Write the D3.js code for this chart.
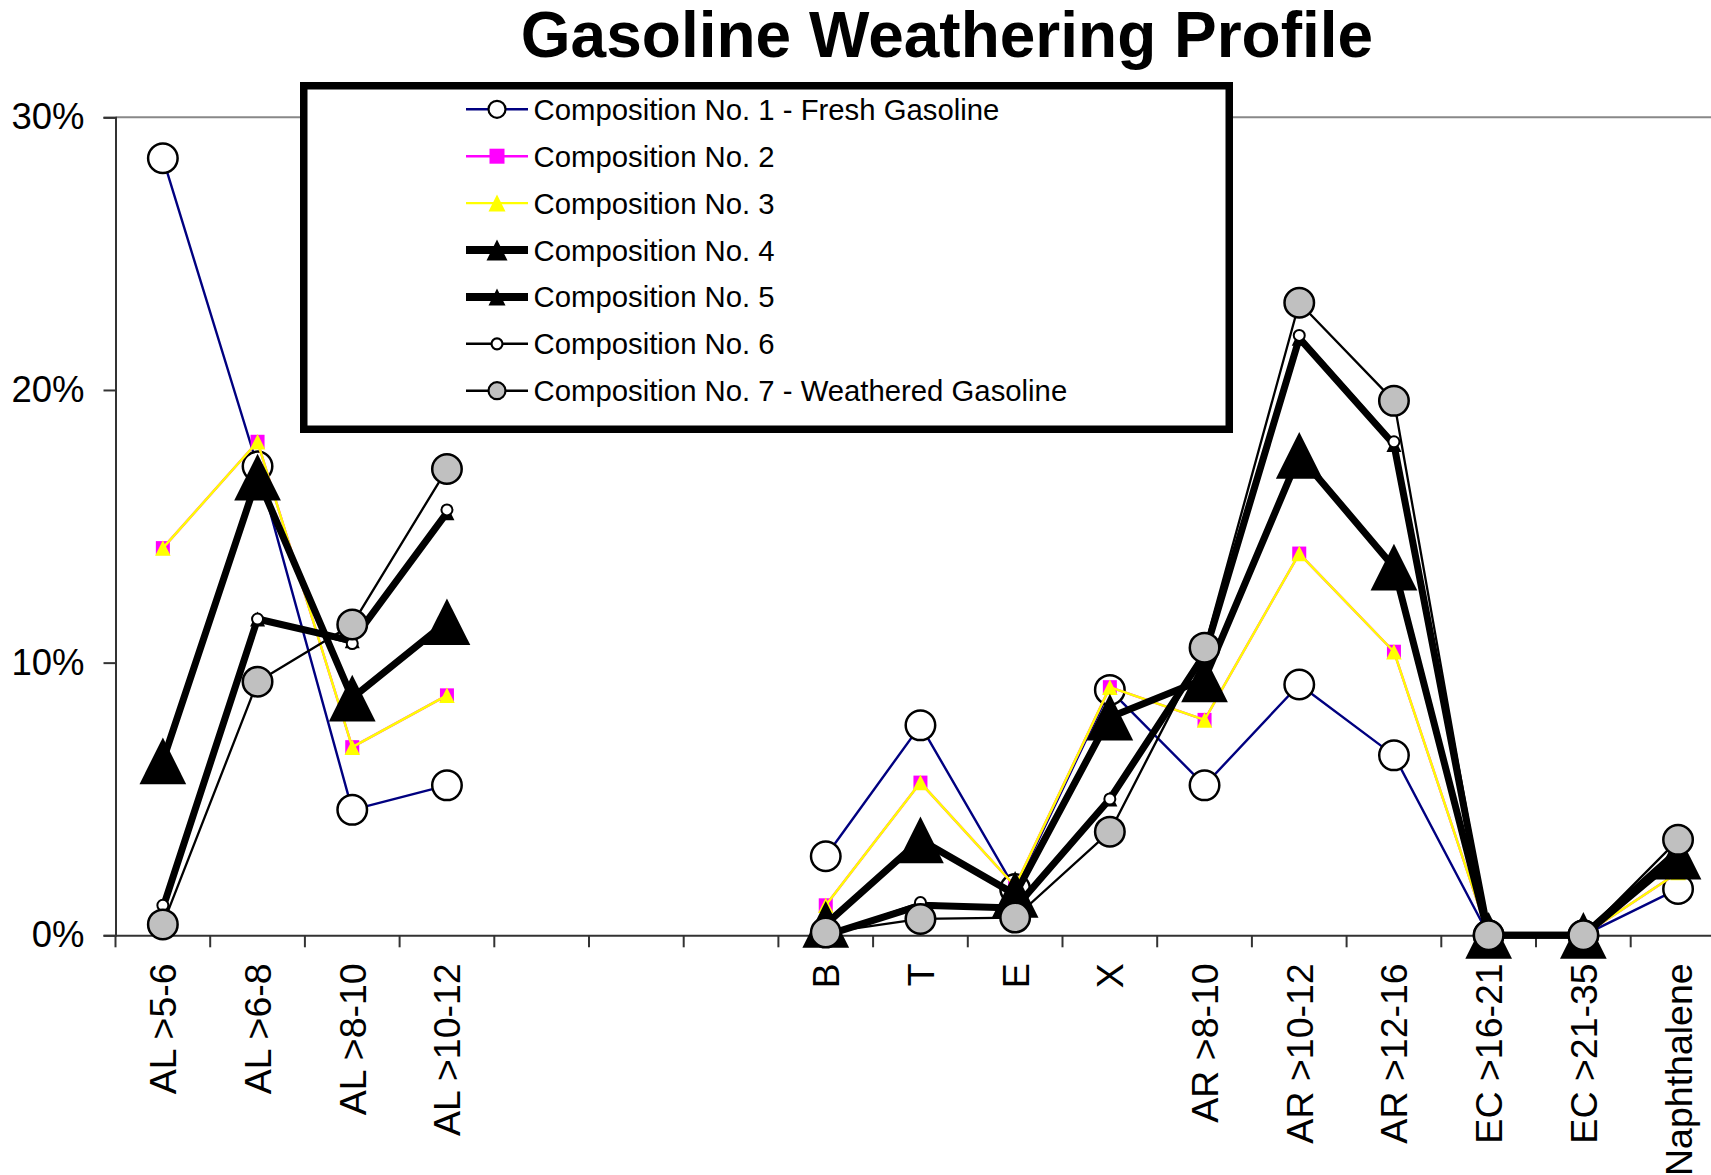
<!DOCTYPE html>
<html>
<head>
<meta charset="utf-8">
<script src="https://cdn.jsdelivr.net/npm/d3@7"></script>
<style>
  html, body { margin: 0; padding: 0; background: #fff; }
  svg { display: block; font-family: "Liberation Sans", Arial, sans-serif; }
</style>
</head>
<body>
<svg id="chart" width="1711" height="1175"></svg>
<script>
// ---------- DATA ----------
const categories = ["AL >5-6", "AL >6-8", "AL >8-10", "AL >10-12", "", "", "",
  "B", "T", "E", "X", "AR >8-10", "AR >10-12", "AR >12-16", "EC >16-21", "EC >21-35", "Naphthalene"];

const seriesNames = [
  "Composition No. 1 - Fresh Gasoline",
  "Composition No. 2",
  "Composition No. 3",
  "Composition No. 4",
  "Composition No. 5",
  "Composition No. 6",
  "Composition No. 7 - Weathered Gasoline"
];

const comp1 = [28.5, 17.2, 4.6, 5.5, null, null, null, 2.9, 7.7, 1.7, 9.0, 5.5, 9.2, 6.6, 0, 0, 1.7];
const comp2 = [14.2, 18.1, 6.9, 8.8, null, null, null, 1.1, 5.6, 1.8, 9.1, 7.9, 14.0, 10.4, 0, 0, 2.3];
const comp3 = [14.2, 18.1, 6.9, 8.8, null, null, null, 1.1, 5.6, 1.8, 9.1, 7.9, 14.0, 10.4, 0, 0, 2.3];
const comp4 = [6.4, 16.8, 8.7, 11.5, null, null, null, 0.4, 3.5, 1.5, 8.0, 9.4, 17.6, 13.5, 0, 0, 2.9];
const comp5 = [1.0, 11.6, 10.8, 15.5, null, null, null, 0.0, 1.1, 1.0, 5.0, 10.3, 21.9, 18.0, 0, 0, 3.1];
const comp6 = [1.1, 11.6, 10.7, 15.6, null, null, null, 0.0, 1.2, 0.9, 5.0, 10.4, 22.0, 18.1, 0, 0, 3.2];
const comp7 = [0.4, 9.3, 11.4, 17.1, null, null, null, 0.1, 0.6, 0.65, 3.8, 10.55, 23.2, 19.6, 0, 0, 3.5];

const yTicks = [0, 10, 20, 30];

// ---------- STYLES ----------
const styles = [
  {line: "#000080", lw: 2.4, marker: "circle", size: 14.75, fill: "#fff", stroke: "#000", sw: 2.5, lgSize: 8.5, lgLw: 2.4},
  {line: "#FF00FF", lw: 2.4, marker: "square", size: 14, fill: "#FF00FF", stroke: "none", sw: 0, lgSize: 15, lgLw: 2.4},
  {line: "#FFFF00", lw: 2.4, marker: "triangle", size: 15.5, fill: "#FFFF00", stroke: "none", sw: 0, lgSize: 17, lgLw: 2.4},
  {line: "#000", lw: 7, marker: "triangle", size: 46.7, fill: "#000", stroke: "none", sw: 0, lgSize: 21, lgLw: 8},
  {line: "#000", lw: 7, marker: "triangle", size: 15, fill: "#000", stroke: "none", sw: 0, lgSize: 17, lgLw: 8},
  {line: "#000", lw: 2.3, marker: "circle", size: 5.5, fill: "#fff", stroke: "#000", sw: 2, lgSize: 5.5, lgLw: 2.4},
  {line: "#000", lw: 2.3, marker: "circle", size: 14.75, fill: "#C0C0C0", stroke: "#000", sw: 2.5, lgSize: 8.5, lgLw: 2.4}
];
const allSeries = [comp1, comp2, comp3, comp4, comp5, comp6, comp7];

// ---------- LAYOUT ----------
const svg = d3.select("#chart");
svg.append("rect").attr("width", 1711).attr("height", 1175).attr("fill", "#fff");

const plotLeft = 115.5, step = 94.7;
const plotRight = plotLeft + step * categories.length;
const plotTop = 117.3, plotBottom = 935.3;

const x = d3.scaleBand().domain(d3.range(categories.length)).range([plotLeft, plotRight]).padding(0);
const y = d3.scaleLinear().domain([0, 30]).range([plotBottom, plotTop]);
const cx = i => x(i) + x.bandwidth() / 2;

// title
svg.append("text")
  .attr("x", 947).attr("y", 57)
  .attr("text-anchor", "middle")
  .attr("font-size", 64).attr("font-weight", "bold")
  .text("Gasoline Weathering Profile");

// plot area top border (gray)
svg.append("line")
  .attr("x1", plotLeft).attr("x2", plotRight)
  .attr("y1", y(30)).attr("y2", y(30))
  .attr("stroke", "#888").attr("stroke-width", 2);

// y axis
const yAxis = d3.axisLeft(y).tickValues(yTicks).tickFormat(d => d + "%").tickSize(12).tickPadding(19);
const gy = svg.append("g").attr("transform", `translate(${plotLeft},0)`).call(yAxis);
gy.select(".domain").attr("stroke", "#333").attr("stroke-width", 2);
gy.selectAll(".tick line").attr("stroke", "#333").attr("stroke-width", 2);
gy.selectAll(".tick text").attr("font-size", 36.5).attr("fill", "#000")
  .attr("font-family", "'Liberation Sans', Arial, sans-serif");

// x axis
const xAxis = d3.axisBottom(x).tickSize(0).tickFormat(i => categories[i]);
const gx = svg.append("g").attr("transform", `translate(0,${plotBottom})`).call(xAxis);
gx.select(".domain").attr("stroke", "#333").attr("stroke-width", 2);
gx.selectAll(".tick text")
  .attr("font-size", 37.5).attr("fill", "#000")
  .attr("font-family", "'Liberation Sans', Arial, sans-serif")
  .attr("text-anchor", "end")
  .attr("transform", "rotate(-90)")
  .attr("x", -28).attr("y", 0).attr("dy", "0.36em");
// x tick marks at category boundaries
svg.append("g").selectAll("line")
  .data(d3.range(categories.length + 1))
  .join("line")
  .attr("x1", i => plotLeft + i * step).attr("x2", i => plotLeft + i * step)
  .attr("y1", plotBottom).attr("y2", plotBottom + 12)
  .attr("stroke", "#333").attr("stroke-width", 2);

// marker drawer
function drawMarker(g, st, px, py, size) {
  if (st.marker === "circle") {
    g.append("circle").attr("cx", px).attr("cy", py).attr("r", size)
      .attr("fill", st.fill).attr("stroke", st.stroke).attr("stroke-width", st.sw);
  } else if (st.marker === "square") {
    g.append("rect").attr("x", px - size / 2).attr("y", py - size / 2)
      .attr("width", size).attr("height", size).attr("fill", st.fill);
  } else {
    const h = size;
    g.append("path")
      .attr("d", `M${px},${py - h / 2}L${px + size / 2},${py + h / 2}L${px - size / 2},${py + h / 2}Z`)
      .attr("fill", st.fill);
  }
}

// series
const line = d3.line().defined(d => d.v !== null).x(d => cx(d.i)).y(d => y(d.v));
allSeries.forEach((vals, si) => {
  const st = styles[si];
  const pts = vals.map((v, i) => ({i, v}));
  const g = svg.append("g");
  g.append("path").datum(pts).attr("d", line)
    .attr("fill", "none").attr("stroke", st.line).attr("stroke-width", st.lw)
    .attr("stroke-linejoin", "round");
  pts.filter(d => d.v !== null).forEach(d => drawMarker(g, st, cx(d.i), y(d.v), st.size));
});

// legend
const lg = svg.append("g");
lg.append("rect").attr("x", 303.75).attr("y", 85.75).attr("width", 925.5).attr("height", 343.5)
  .attr("fill", "#fff").attr("stroke", "#000").attr("stroke-width", 7.5);
seriesNames.forEach((name, si) => {
  const st = styles[si];
  const ry = 109.3 + si * 46.9;
  lg.append("line").attr("x1", 466).attr("x2", 528).attr("y1", ry).attr("y2", ry)
    .attr("stroke", st.line).attr("stroke-width", st.lgLw);
  drawMarker(lg, Object.assign({}, st, {sw: st.sw ? 2.2 : 0}), 497, ry, st.lgSize);
  lg.append("text").attr("x", 533.6).attr("y", ry).attr("dy", "0.36em")
    .attr("font-size", 29.3).text(name);
});
</script>
</body>
</html>
